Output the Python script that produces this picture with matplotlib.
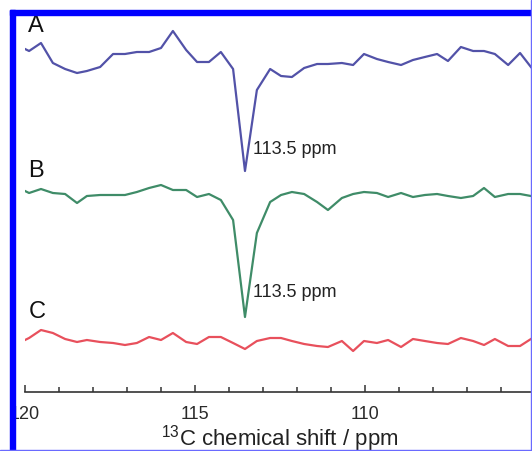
import matplotlib
matplotlib.use("Agg")
import matplotlib.pyplot as plt
from matplotlib.patches import Rectangle
from matplotlib.ticker import MultipleLocator

plt.rcParams['font.family'] = ['Liberation Sans', 'DejaVu Sans']
plt.rcParams['mathtext.fontset'] = 'custom'
plt.rcParams['mathtext.rm'] = 'Liberation Sans'

# chemical shift grid (ppm)
ppm = [120.00, 119.88, 119.53, 119.18, 118.82, 118.47, 118.18, 117.79, 117.41,
       117.06, 116.71, 116.35, 116.00, 115.65, 115.26, 114.94, 114.59, 114.24,
       113.88, 113.53, 113.18, 112.79, 112.47, 112.15, 111.79, 111.41, 111.09,
       110.68, 110.35, 110.03, 109.65, 109.32, 108.94, 108.59, 108.24, 107.88,
       107.56, 107.18, 106.82, 106.50, 106.18, 105.79, 105.44, 105.12]

# intensities (arbitrary units)
spec_A = [1.1, 0.9, 1.7, -0.3, -0.9, -1.3, -1.1, -0.7, 0.6, 0.6, 0.8, 0.8, 1.2,
          2.9, 1.0, -0.2, -0.2, 0.8, -0.9, -11.1, -3.0, -0.9, -1.6, -1.7, -0.8,
          -0.4, -0.4, -0.3, -0.5, 0.6, 0.1, -0.2, -0.5, 0.0, 0.3, 0.6, -0.1,
          1.3, 0.9, 0.9, 0.6, -0.5, 0.7, -0.7]
spec_B = [0.4, 0.2, 0.6, 0.2, 0.1, -0.8, -0.1, 0.0, 0.0, 0.0, 0.3, 0.7, 1.0,
          0.5, 0.5, -0.2, 0.1, -0.5, -2.5, -12.2, -3.8, -0.7, 0.0, 0.3, 0.1,
          -0.7, -1.5, -0.3, 0.1, 0.3, 0.2, -0.2, 0.2, -0.2, 0.0, 0.1, -0.1,
          -0.3, -0.1, 0.7, -0.2, 0.1, 0.1, -0.1]
spec_C = [0.2, 0.4, 1.2, 0.9, 0.3, 0.0, 0.2, 0.0, -0.1, -0.3, -0.1, 0.5, 0.2,
          0.9, 0.0, -0.2, 0.5, 0.5, -0.1, -0.7, 0.1, 0.4, 0.4, 0.1, -0.2, -0.4,
          -0.5, 0.1, -0.9, 0.1, -0.1, 0.2, -0.5, 0.3, 0.1, -0.1, -0.2, 0.4, 0.1,
          -0.3, 0.3, -0.4, -0.4, 0.3]

labels = ['A', 'B', 'C']
offsets = [33.2, 19.7, 5.0]
label_y = [36.0, 21.5, 7.4]
colors = ['#5252a8', '#3f8c68', '#e8505c']

W, H = 532, 451
fig = plt.figure(figsize=(W / 100, H / 100), dpi=100)
ax = fig.add_axes([25 / W, (H - 392) / H, 506 / W, 372 / H])

for spec, off, col, lab, ly in zip([spec_A, spec_B, spec_C], offsets, colors,
                                   labels, label_y):
    ax.plot(ppm, [v + off for v in spec], color=col, lw=1.6)
    ax.text(119.9, ly, lab, fontsize=17, color='#111111', ha='left',
            va='baseline')

# peak labels
ax.text(113.3, 23.8, '113.5 ppm', fontsize=13, color='#222222', va='baseline')
ax.text(113.3, 9.5, '113.5 ppm', fontsize=13, color='#222222', va='baseline')

ax.set_xlim(120, 120 - 506 / 34)
ax.set_ylim(0, 37.2)
for s in ['left', 'right', 'top']:
    ax.spines[s].set_visible(False)
ax.spines['bottom'].set_color('#333333')
ax.spines['bottom'].set_linewidth(1.2)
ax.set_yticks([])
ax.xaxis.set_major_locator(MultipleLocator(5))
ax.xaxis.set_minor_locator(MultipleLocator(1))
ax.tick_params(axis='x', which='major', direction='in', length=5, width=1.1,
               color='#333333', labelsize=13, labelcolor='#2a2a2a', pad=10)
ax.tick_params(axis='x', which='minor', direction='in', length=3.5, width=1.1,
               color='#333333')
ax.patch.set_alpha(0)

fig.text(280 / W, (H - 446) / H, r'$^{13}$C chemical shift / ppm',
         fontsize=16, color='#222222', ha='center', va='baseline')

# blue frame around the panel
blue = '#0000ff'
fig.add_artist(Rectangle((0, 0), 14 / W, 1, transform=fig.transFigure,
                         color='white', zorder=9))
fig.add_artist(Rectangle((0, (H - 14) / H), 1, 14 / H, transform=fig.transFigure,
                         color='white', zorder=9))
fig.add_artist(Rectangle((10 / W, 0), 4.5 / W, (H - 10) / H,
                         transform=fig.transFigure, color=blue, zorder=10))
fig.add_artist(Rectangle((10 / W, (H - 14.5) / H), 1, 4.5 / H,
                         transform=fig.transFigure, color=blue, zorder=10))
fig.add_artist(Rectangle(((W - 1.5) / W, 0), 1.5 / W, 1,
                         transform=fig.transFigure, color='#6a6aff', zorder=10))
fig.add_artist(Rectangle((0, 0), 1, 1.5 / H,
                         transform=fig.transFigure, color='#6a6aff', zorder=10))

fig.savefig('out.png', dpi=100)
